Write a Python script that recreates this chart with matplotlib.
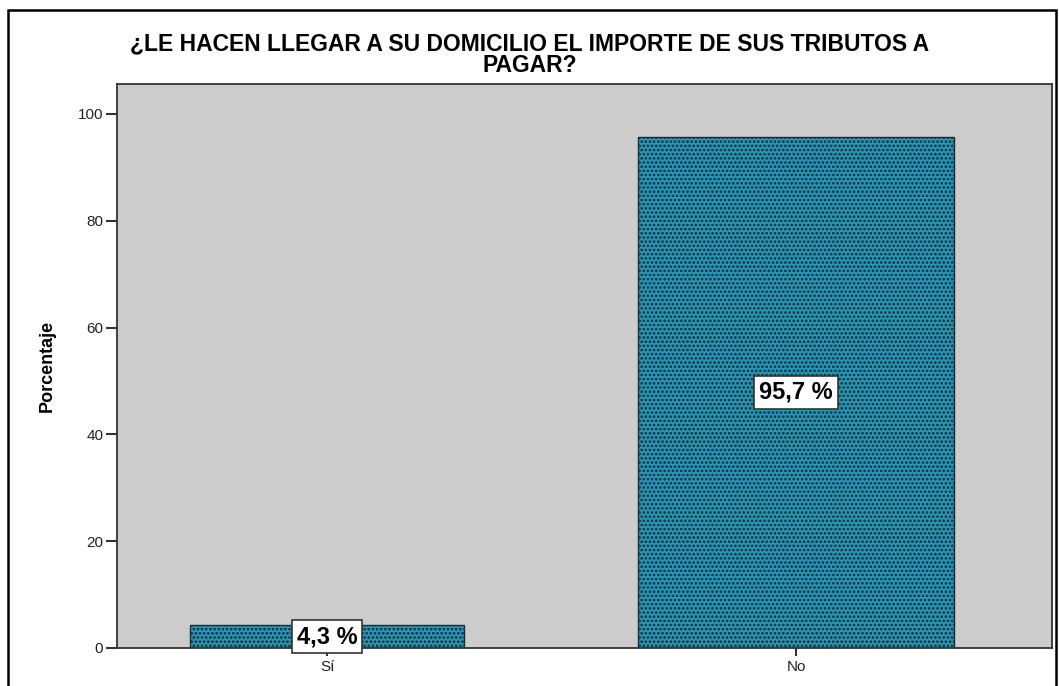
import matplotlib
matplotlib.use("Agg")
import matplotlib.pyplot as plt
from matplotlib.patches import Rectangle

categories = ["Sí", "No"]
percentages = [4.3, 95.7]
bar_widths = [0.586, 0.674]
yticks = [0, 20, 40, 60, 80, 100]
title_lines = ["¿LE HACEN LLEGAR A SU DOMICILIO EL IMPORTE DE SUS TRIBUTOS A", "PAGAR?"]

plt.rcParams['font.family'] = ['Liberation Sans', 'DejaVu Sans']
plt.rcParams['hatch.color'] = '#1a5466'
plt.rcParams['hatch.linewidth'] = 1.3

fig = plt.figure(figsize=(10.59, 6.86), dpi=100)
ax = fig.add_axes([0.1105, 0.0554, 0.8829, 0.8222])
ax.set_facecolor('#cccccc')

# outer frame
fig.patches.append(Rectangle((0.0076, -0.05), 0.99, 1.035, transform=fig.transFigure,
                             fill=False, edgecolor='black', linewidth=1.8))

x = list(range(len(categories)))
ax.bar(x, percentages, width=bar_widths, color='#2597b9', edgecolor='#1b2b30',
       linewidth=1.0, hatch='....', zorder=2)

for xi, v in zip(x, percentages):
    ax.text(xi, v / 2, "{:.1f} %".format(v).replace('.', ','), ha='center', va='center',
            fontsize=17, fontweight='bold',
            bbox=dict(boxstyle='square,pad=0.2', facecolor='white', edgecolor='#333333',
                      linewidth=1.2), zorder=3)

ax.set_xlim(-0.448, 1.546)
ax.set_ylim(0, 105.6)
ax.set_yticks(yticks)
ax.set_xticks(x)
ax.set_xticklabels(categories)
ax.tick_params(axis='y', direction='out', length=8, width=1.5, color='#333333',
               labelsize=11, labelcolor='#222222', pad=2)
ax.tick_params(axis='x', direction='out', length=6, width=1.5, color='#333333',
               labelsize=11, labelcolor='#222222', pad=3)
for s in ax.spines.values():
    s.set_color('#333333')
    s.set_linewidth(1.3)

ax.set_ylabel("Porcentaje", fontsize=13, fontweight='bold', labelpad=16)
fig.text(0.5, 1 - 44 / 686, title_lines[0], ha='center', va='center', fontsize=16.5,
         fontweight='bold')
fig.text(0.5, 1 - 66 / 686, title_lines[1], ha='center', va='center', fontsize=16.5,
         fontweight='bold')

fig.savefig("out.png", dpi=100)
